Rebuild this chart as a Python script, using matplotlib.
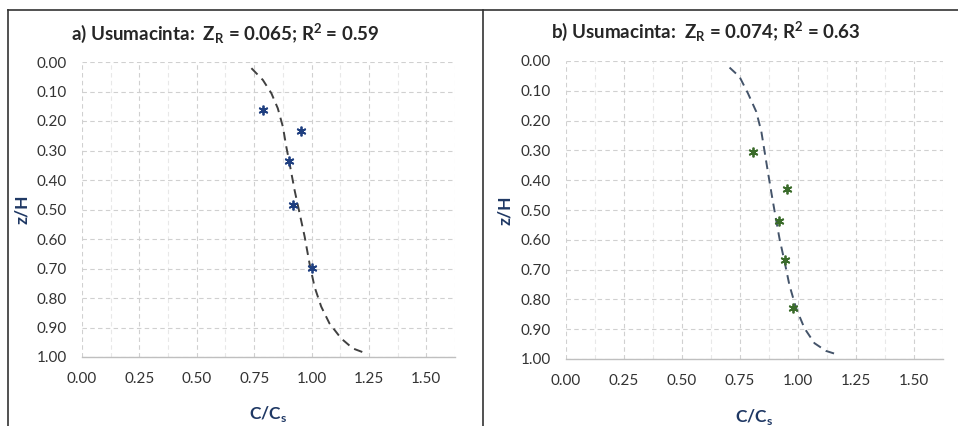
import matplotlib.pyplot as plt
from matplotlib.lines import Line2D
from matplotlib.ticker import MultipleLocator, FormatStrFormatter

plt.rcParams['font.family'] = ['Lato', 'DejaVu Sans']
plt.rcParams['mathtext.fontset'] = 'custom'
plt.rcParams['mathtext.rm'] = 'Lato'
plt.rcParams['mathtext.bf'] = 'Lato:bold'

# panel a) measured points and fitted profile (read off the picture)
a_pts_c = [0.79, 0.955, 0.90, 0.92, 1.00]
a_pts_z = [0.163, 0.233, 0.334, 0.485, 0.698]
a_fit_c = [0.738, 0.788, 0.825, 0.853, 0.875, 0.890, 0.904, 0.926, 0.948, 0.970,
           0.991, 1.013, 1.042, 1.078, 1.129, 1.180, 1.245]
a_fit_z = [0.021, 0.061, 0.106, 0.157, 0.219, 0.287, 0.343, 0.434, 0.513, 0.592,
           0.682, 0.762, 0.829, 0.886, 0.937, 0.971, 0.990]

# panel b)
b_pts_c = [0.806, 0.952, 0.920, 0.942, 0.978]
b_pts_z = [0.306, 0.430, 0.536, 0.668, 0.830]
b_fit_c = [0.705, 0.748, 0.784, 0.820, 0.842, 0.856, 0.870, 0.887, 0.902, 0.920,
           0.942, 0.963, 0.992, 1.028, 1.071, 1.121, 1.178]
b_fit_z = [0.022, 0.053, 0.108, 0.170, 0.237, 0.304, 0.371, 0.450, 0.517, 0.595,
           0.673, 0.752, 0.830, 0.897, 0.947, 0.973, 0.987]

titles = [r"a) Usumacinta:  $\mathbf{Z_R}$ = 0.065; $\mathbf{R^2}$ = 0.59",
          r"b) Usumacinta:  $\mathbf{Z_R}$ = 0.074; $\mathbf{R^2}$ = 0.63"]

fig = plt.figure(figsize=(9.58, 4.26), dpi=100)
W, H = 958, 426

def box(x0, x1, ytop, ybot):
    return [x0 / W, 1 - ybot / H, (x1 - x0) / W, (ybot - ytop) / H]

ax1 = fig.add_axes(box(82, 455, 62, 357))
ax2 = fig.add_axes(box(566, 943, 61, 359))

panels = [
    (ax1, a_pts_c, a_pts_z, a_fit_c, a_fit_z, '#1f3f80', '#404040', titles[0], (225, 33)),
    (ax2, b_pts_c, b_pts_z, b_fit_c, b_fit_z, '#3a6b2a', '#44546a', titles[1], (706, 31)),
]

for ax, pc, pz, fc, fz, mcol, lcol, title, tpos in panels:
    ax.plot(fc, fz, linestyle=(0, (4.5, 3)), color=lcol, linewidth=1.4, zorder=3)
    ax.plot(pc, pz, linestyle='none', marker=(6, 2, 0), markersize=7,
            markeredgewidth=1.3, color=mcol, zorder=4)
    ax.set_xlim(0, 1.625)
    ax.set_ylim(1.0, 0.0)
    ax.xaxis.set_major_locator(MultipleLocator(0.25))
    ax.xaxis.set_minor_locator(MultipleLocator(0.125))
    ax.yaxis.set_major_locator(MultipleLocator(0.1))
    ax.xaxis.set_major_formatter(FormatStrFormatter('%.2f'))
    ax.yaxis.set_major_formatter(FormatStrFormatter('%.2f'))
    ax.grid(which='major', axis='both', color='#d0d0d0', linestyle=(0, (4, 3)), linewidth=0.8)
    ax.grid(which='minor', axis='x', color='#e8e8e8', linestyle=(0, (4, 3)), linewidth=0.8)
    ax.set_axisbelow(True)
    for s in ['top', 'right', 'left']:
        ax.spines[s].set_visible(False)
    ax.spines['bottom'].set_color('#bfbfbf')
    ax.spines['bottom'].set_linewidth(1.0)
    ax.tick_params(which='both', length=0, labelsize=11, labelcolor='#333333')
    ax.tick_params(axis='y', pad=11)
    ax.tick_params(axis='x', pad=11)
    ax.set_xlabel('C/C$_\\mathbf{s}$', fontsize=12.5, fontweight='bold', color='#1f3864')
    ax.set_ylabel('z/H', fontsize=12.5, fontweight='bold', color='#1f3864')
    ax.xaxis.set_label_coords(0.5, -0.16)
    ax.yaxis.set_label_coords(-0.14, 0.5)
    fig.text(tpos[0] / W, 1 - tpos[1] / H, title, ha='center', va='center',
             fontsize=13.5, fontweight='bold', color='#262626')

# panel frames
for x0, y0, x1, y1 in [(8, 9.5, 958, 9.5), (8, 9.5, 8, 426), (483.5, 9.5, 483.5, 426)]:
    fig.add_artist(Line2D([x0 / W, x1 / W], [1 - y0 / H, 1 - y1 / H], color='#333333', linewidth=1.2))

fig.savefig('out.png', dpi=100, facecolor='white')
